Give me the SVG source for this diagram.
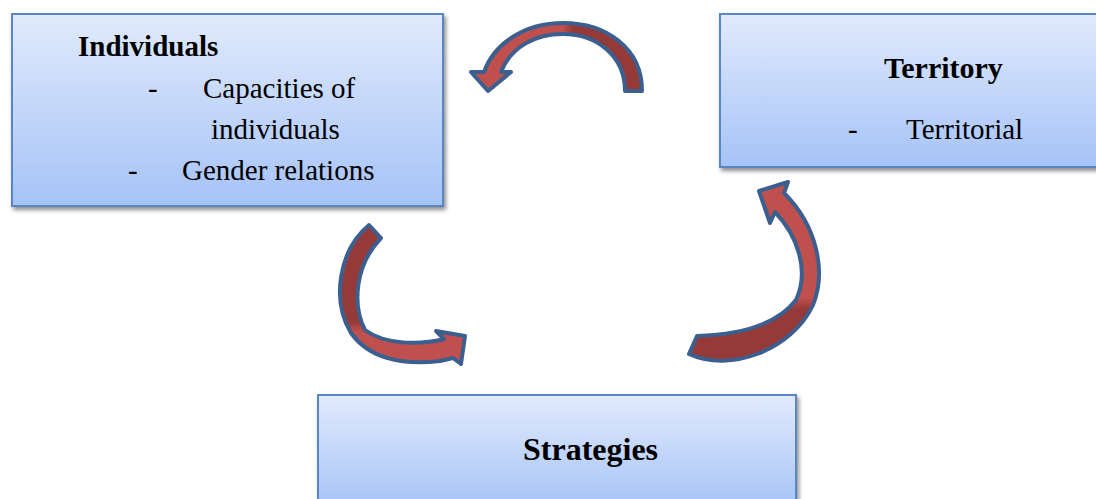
<svg xmlns="http://www.w3.org/2000/svg" width="1096" height="499" viewBox="0 0 1096 499">
<style>
.box{fill:url(#boxg);stroke:#5a87c4;stroke-width:2;filter:url(#sh)}
text{font-family:"Liberation Serif","Times New Roman",Times,serif;fill:#000}
.b{font-weight:bold}
.arr{stroke:#3b5f8f;stroke-width:4;stroke-linejoin:round}
</style>
<defs>
<linearGradient id="boxg" x1="0" y1="0" x2="0" y2="1">
<stop offset="0" stop-color="#e1eafc"/>
<stop offset="1" stop-color="#a5c3f7"/>
</linearGradient>
<filter id="sh" x="-5%" y="-5%" width="115%" height="120%">
<feGaussianBlur in="SourceAlpha" stdDeviation="2"/>
<feOffset dx="2" dy="3" result="o"/>
<feComponentTransfer><feFuncA type="linear" slope="0.45"/></feComponentTransfer>
<feMerge><feMergeNode/><feMergeNode in="SourceGraphic"/></feMerge>
</filter>
<linearGradient id="g1" gradientUnits="userSpaceOnUse" x1="480" y1="0" x2="645" y2="0">
<stop offset="0.5" stop-color="#c0504d"/>
<stop offset="0.56" stop-color="#953a38"/>
</linearGradient>
<linearGradient id="g2" gradientUnits="userSpaceOnUse" x1="0" y1="220" x2="0" y2="370">
<stop offset="0.68" stop-color="#953a38"/>
<stop offset="0.74" stop-color="#c0504d"/>
</linearGradient>
<linearGradient id="g3" gradientUnits="userSpaceOnUse" x1="0" y1="180" x2="0" y2="370">
<stop offset="0.62" stop-color="#c0504d"/>
<stop offset="0.68" stop-color="#953a38"/>
</linearGradient>
</defs>

<g id="individuals" font-family="Liberation Serif, serif">
<rect class="box" x="12" y="14" width="431" height="192"/>
<text class="b" x="78" y="56" font-size="29">Individuals</text>
<text x="148" y="98" font-size="29">-</text>
<text x="203" y="98" font-size="29">Capacities of</text>
<text x="211" y="139" font-size="29">individuals</text>
<text x="128" y="180" font-size="29">-</text>
<text x="182" y="180" font-size="29">Gender relations</text>
</g>

<g id="territory" font-family="Liberation Serif, serif">
<rect class="box" x="720" y="14" width="390" height="153"/>
<text class="b" x="884" y="78" font-size="30">Territory</text>
<text x="848" y="139" font-size="29">-</text>
<text x="906" y="139" font-size="29">Territorial</text>
</g>

<g id="strategies" font-family="Liberation Serif, serif">
<rect class="box" x="318" y="395" width="478" height="115"/>
<text class="b" x="523" y="460" font-size="32">Strategies</text>
</g>

<g id="connectors">
<path class="arr" fill="url(#g1)" d="M 642 91 C 642 48, 606 23, 563 23 C 524 23, 494 44, 484 72 L 471 72 L 488 91 L 511 72 L 501 72 C 511 47, 535 34, 563 34 C 597 34, 625 56, 625 91 Z"/>
<path class="arr" fill="url(#g2)" d="M 369 225 C 339 250, 331 300, 351 333 C 368 357, 400 366, 440 361 L 453 358 L 461 364 L 465 336 L 436 331 L 444 339 C 420 345, 385 345, 365 330 C 352 305, 355 265, 381 238 Z"/>
<path class="arr" fill="url(#g3)" d="M 689 354 C 730 373, 792 350, 813 305 C 827 270, 816 225, 784 193 L 788 182 L 759 191 L 770 223 L 775 212 C 797 235, 810 270, 796 300 C 775 327, 735 335, 697 336 Z"/>
</g>
</svg>
